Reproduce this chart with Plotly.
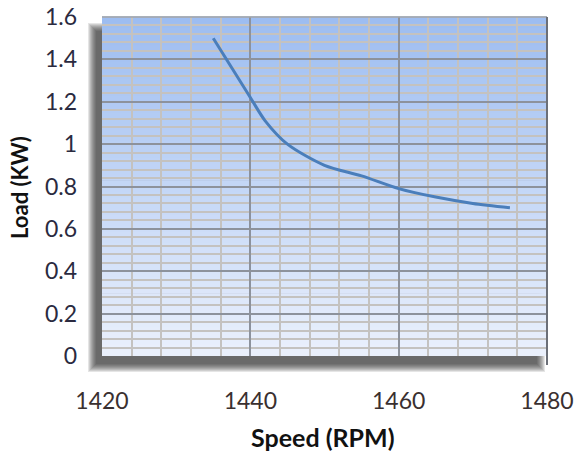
import plotly.graph_objects as go

speed_rpm = [1435, 1440, 1442, 1445, 1450, 1455, 1460, 1465, 1470, 1475]
load_kw = [1.50, 1.22, 1.11, 1.00, 0.90, 0.85, 0.79, 0.75, 0.72, 0.70]

x_range = [1420, 1480]
y_range = [0, 1.6]

W, H = 579, 453
ML, MR, MT, MB = 102, 32, 17, 97
PW, PH = W - ML - MR, H - MT - MB

fig = go.Figure()
fig.add_trace(go.Scatter(
    x=speed_rpm, y=load_kw, mode="lines",
    line=dict(color="#4a7ebb", width=3, shape="spline", smoothing=0.8),
    hoverinfo="skip", showlegend=False,
))

shapes = []
# drop shadow (offset left/down, blurred by stacking translucent rects)
off_x, off_y = 5, 7
for s in range(9, 0, -1):
    shapes.append(dict(
        type="rect", xref="paper", yref="paper", layer="below",
        x0=(-off_x - s) / PW, x1=(PW - off_x + s - 6) / PW,
        y0=(-off_y - s) / PH, y1=(PH - off_y + s - 8) / PH,
        fillcolor="rgba(40,40,40,0.12)", line=dict(width=0),
    ))
# vertical gradient background
top = (157, 189, 241)
bot = (234, 240, 252)
N = 60
for i in range(N):
    t = i / (N - 1)
    c = tuple(round(bot[k] + (top[k] - bot[k]) * t) for k in range(3))
    shapes.append(dict(
        type="rect", xref="paper", yref="paper", layer="below",
        x0=0, x1=1, y0=i / N, y1=(i + 1) / N + 0.002,
        fillcolor="rgb(%d,%d,%d)" % c, line=dict(width=0),
    ))
# borders
shapes.append(dict(type="line", xref="paper", yref="paper", x0=0, x1=1, y0=1, y1=1,
                   line=dict(color="#a6a6a6", width=1.5)))
shapes.append(dict(type="line", xref="paper", yref="paper", x0=1, x1=1, y0=-9 / PH, y1=1,
                   line=dict(color="#6b6f78", width=2)))

annotations = [
    dict(text="<b>Speed (RPM)</b>", xref="paper", yref="paper",
         x=(323 - ML) / PW, y=-(437 - (MT + PH)) / PH, showarrow=False,
         xanchor="center", yanchor="middle",
         font=dict(size=25, family="Lato", color="#111111")),
    dict(text="<b>Load (KW)</b>", xref="paper", yref="paper",
         x=-(ML - 19) / PW, y=(MT + PH - 188) / PH, showarrow=False,
         xanchor="center", yanchor="middle", textangle=-90,
         font=dict(size=22, family="Lato", color="#111111")),
]

fig.update_layout(
    width=W, height=H,
    margin=dict(l=ML, r=MR, t=MT, b=MB, autoexpand=False),
    paper_bgcolor="white", plot_bgcolor="white",
    shapes=shapes, annotations=annotations,
    font=dict(family="Lato", color="#333333"),
    xaxis=dict(
        range=x_range, dtick=20, tick0=1420, automargin=False,
        showgrid=True, gridcolor="#8d929c", gridwidth=1.5,
        minor=dict(dtick=4, tick0=1420, showgrid=True, gridcolor="#c4c2c0", gridwidth=1.5),
        zeroline=False, showline=False, ticks="",
        tickfont=dict(size=23, family="Lato", color="#3a3030"),
        ticklabelstandoff=29,
    ),
    yaxis=dict(
        range=y_range, dtick=0.2, tick0=0, automargin=False,
        showgrid=True, gridcolor="#8d929c", gridwidth=1.5,
        minor=dict(dtick=0.04, tick0=0, showgrid=True, gridcolor="#c4c2c0", gridwidth=1.5),
        zeroline=False, showline=False, ticks="",
        tickfont=dict(size=23, family="Lato", color="#2a2a40"),
        ticklabelstandoff=24,
    ),
)

fig.write_html("out.html", config={"displayModeBar": False},
               post_script="document.body.style.margin='0';")
